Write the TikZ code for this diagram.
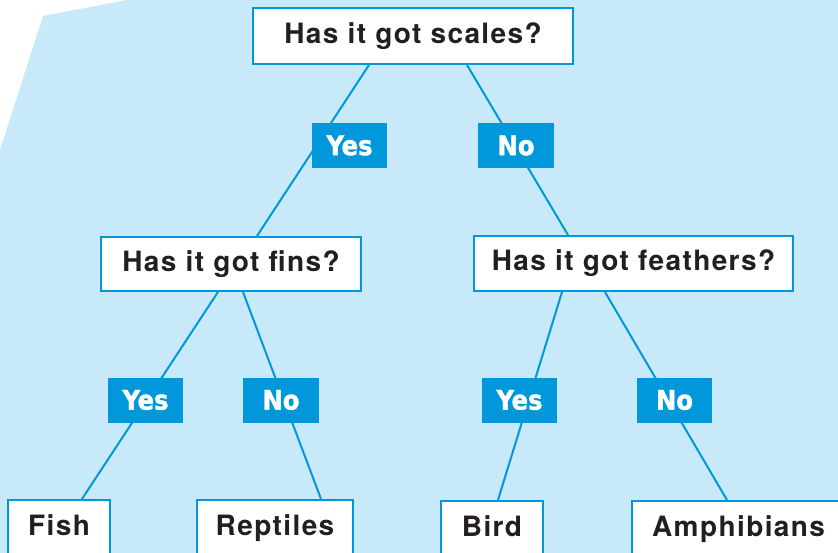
\documentclass[tikz,border=0pt]{standalone}
\usepackage{fontspec}
\setmainfont{TeX Gyre Heros}[LetterSpace=5]
\newfontfamily\tagfont{DejaVu Sans Condensed}[BoldFeatures={FakeBold=1.5}]
\definecolor{skyback}{HTML}{C7E9F9}
\definecolor{keyblue}{HTML}{0098DA}
\definecolor{inkdark}{HTML}{231F20}
\begin{document}
\begin{tikzpicture}[x=1pt,y=-1pt,
  question/.style={rectangle, draw=keyblue, line width=2pt, fill=white, text=inkdark, font=\bfseries\fontsize{28}{30}\selectfont, inner sep=0pt},
  answer/.style={question, minimum height=70pt, text height=10pt, text depth=10pt},
  tag/.style={rectangle, fill=keyblue, text=white, font=\tagfont\bfseries\fontsize{27}{28}\selectfont, minimum width=75pt, minimum height=45pt, inner sep=0pt},
  link/.style={draw=keyblue, line width=2pt}]
\clip (0,0) rectangle (838,553);
\fill[skyback] (0,150) -- (43,16) -- (127,0) -- (838,0) -- (838,553) -- (0,553) -- cycle;
% questions
\node[question, minimum width=320pt, minimum height=56pt] (Scales) at (413,36) {Has it got scales?};
\node[question, minimum width=260pt, minimum height=54pt] (Fins) at (231,264) {Has it got fins?};
\node[question, minimum width=319pt, minimum height=55pt] (Feathers) at (633.5,263.5) {Has it got feathers?};
% answers
\node[answer, minimum width=102pt] (Fish) at (59,535) {Fish};
\node[answer, minimum width=156pt] (Reptiles) at (275,535) {Reptiles};
\node[answer, minimum width=102pt] (Bird) at (492,536) {Bird};
\node[answer, minimum width=213pt] (Amphibians) at (738.5,536) {Amphibians};
% links
\draw[link] ([xshift=-44pt]Scales.south) -- ([xshift=26pt]Fins.north);
\draw[link] ([xshift=54pt]Scales.south) -- ([xshift=-65.5pt]Feathers.north);
\draw[link] ([xshift=-13pt]Fins.south) -- ([xshift=23pt]Fish.north);
\draw[link] ([xshift=12pt]Fins.south) -- ([xshift=46pt]Reptiles.north);
\draw[link] ([xshift=-71.5pt]Feathers.south) -- ([xshift=6pt]Bird.north);
\draw[link] ([xshift=-28.5pt]Feathers.south) -- ([xshift=-11.5pt]Amphibians.north);
% yes / no tags
\node[tag] (Yes1) at (349.5,145.5) {Yes};
\node[tag, minimum width=76pt] (No1) at (516,145.5) {No};
\node[tag] (Yes2) at (145.5,400) {Yes};
\node[tag, minimum width=76pt] (No2) at (281,400) {No};
\node[tag] (Yes3) at (519.5,400) {Yes};
\node[tag] (No3) at (674.5,400) {No};
\end{tikzpicture}
\end{document}
